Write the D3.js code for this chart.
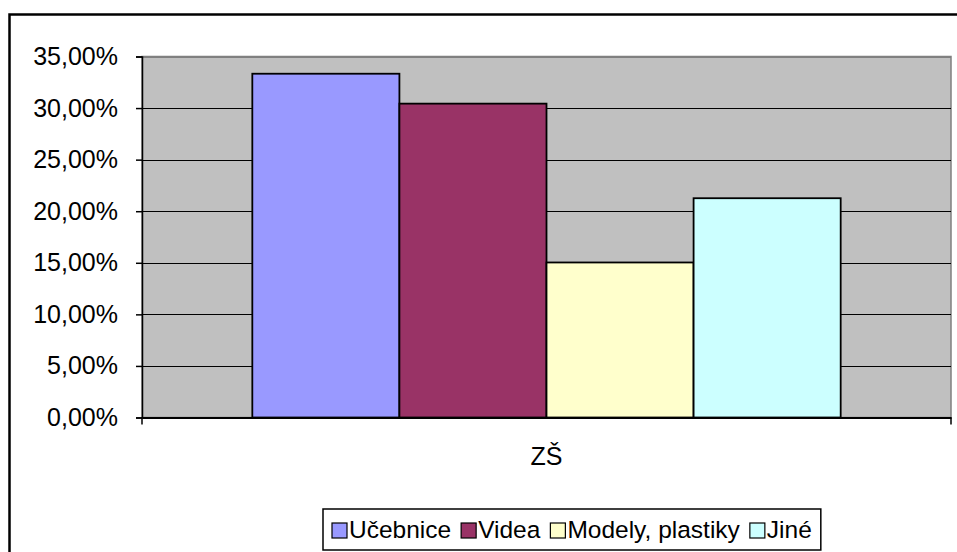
<!DOCTYPE html>
<html><head><meta charset="utf-8">
<script src="https://cdn.jsdelivr.net/npm/d3@7"></script>
<style>body{margin:0;background:#fff}svg{display:block}text{font-family:"Liberation Sans",Arial,sans-serif;fill:#000}</style>
</head><body>
<svg id="c" width="957" height="552"></svg>
<script>
const categories = ["ZŠ"];
const seriesNames = ["Učebnice", "Videa", "Modely, plastiky", "Jiné"];
const seriesValues = [0.3333, 0.3043, 0.1503, 0.2126];
const seriesColors = ["#9999FF", "#993366", "#FFFFCC", "#CCFFFF"];
const yTicks = [0, 0.05, 0.10, 0.15, 0.20, 0.25, 0.30, 0.35];

const svg = d3.select("#c");
const L = 142, R = 951, T = 56.5, B = 417.5;

// outer frame
svg.append("rect").attr("x", 9.5).attr("y", 14.5).attr("width", 1000).attr("height", 600)
  .attr("fill", "#fff").attr("stroke", "#000").attr("stroke-width", 2.5);

const x0 = d3.scaleBand().domain(categories).range([L, R]).paddingInner(0).paddingOuter(0);
const y = d3.scaleLinear().domain([0, 0.35]).range([B, T]);

// plot area
svg.append("rect").attr("x", L).attr("y", T).attr("width", R - L).attr("height", B - T)
  .attr("fill", "#C0C0C0").attr("stroke", "#808080").attr("stroke-width", 1.5);

// gridlines
svg.append("g").selectAll("line").data(yTicks.filter(d => d > 0)).join("line")
  .attr("x1", L).attr("x2", R).attr("y1", d => Math.round(y(d)) + 0.5).attr("y2", d => Math.round(y(d)) + 0.5)
  .attr("stroke", d => d === 0.35 ? "#808080" : "#000").attr("stroke-width", 1);

// bars
const groupW = x0.bandwidth();
const barW = groupW / (seriesNames.length + 1.5);
const x1 = d3.scaleBand().domain(seriesNames)
  .range([0, barW * seriesNames.length]).padding(0);
const g = svg.append("g");
categories.forEach(c => {
  const gx = x0(c) + (groupW - barW * seriesNames.length) / 2;
  g.selectAll("rect.b").data(seriesNames).join("rect").attr("class", "b")
    .attr("x", (d) => gx + x1(d))
    .attr("y", (d, i) => y(seriesValues[i]))
    .attr("width", x1.bandwidth())
    .attr("height", (d, i) => B - y(seriesValues[i]))
    .attr("fill", (d, i) => seriesColors[i])
    .attr("stroke", "#000").attr("stroke-width", 1.8);
});

// y axis
const yAxis = d3.axisLeft(y).tickValues(yTicks).tickSize(6).tickPadding(18)
  .tickFormat(d => d3.format(".2f")(d * 100).replace(".", ",") + "%");
const ya = svg.append("g").attr("transform", `translate(${L},0)`).call(yAxis);
ya.select(".domain").attr("stroke", "#000").attr("stroke-width", 1.5);
ya.selectAll(".tick line").attr("stroke", "#000").attr("stroke-width", 1.5);
ya.selectAll("text").style("font-size", "25px").attr("fill", "#000");

// x axis
const xAxis = d3.axisBottom(x0).tickSize(0).tickPadding(30);
const xa = svg.append("g").attr("transform", `translate(0,${B})`).call(xAxis);
xa.select(".domain").attr("stroke", "#000").attr("stroke-width", 2);
xa.selectAll("text").style("font-size", "25px").attr("fill", "#000");
xa.append("g").selectAll("line").data([L, R]).join("line")
  .attr("x1", d => d).attr("x2", d => d).attr("y1", 0).attr("y2", 7)
  .attr("stroke", "#000").attr("stroke-width", 1.5);

// legend
const lg = svg.append("g");
const lgBox = lg.append("rect").attr("fill", "#fff").attr("stroke", "#000").attr("stroke-width", 1.5);
let cx = 0;
const items = lg.append("g");
seriesNames.forEach((n, i) => {
  const it = items.append("g").attr("transform", `translate(${cx},0)`);
  it.append("rect").attr("x", 0).attr("y", -15).attr("width", 15).attr("height", 15)
    .attr("fill", seriesColors[i]).attr("stroke", "#000").attr("stroke-width", 1.2);
  const t = it.append("text").attr("x", 17).attr("y", 0).style("font-size", "24.5px").text(n);
  cx += 17 + t.node().getComputedTextLength() + 10;
});
const totalW = cx - 10;
const lgL = 323, lgT = 509, lgH = 41;
const lgW = totalW + 18;
lgBox.attr("x", lgL).attr("y", lgT).attr("width", lgW).attr("height", lgH);
items.attr("transform", `translate(${lgL + 9},${lgT + 29})`);
</script>
</body></html>
